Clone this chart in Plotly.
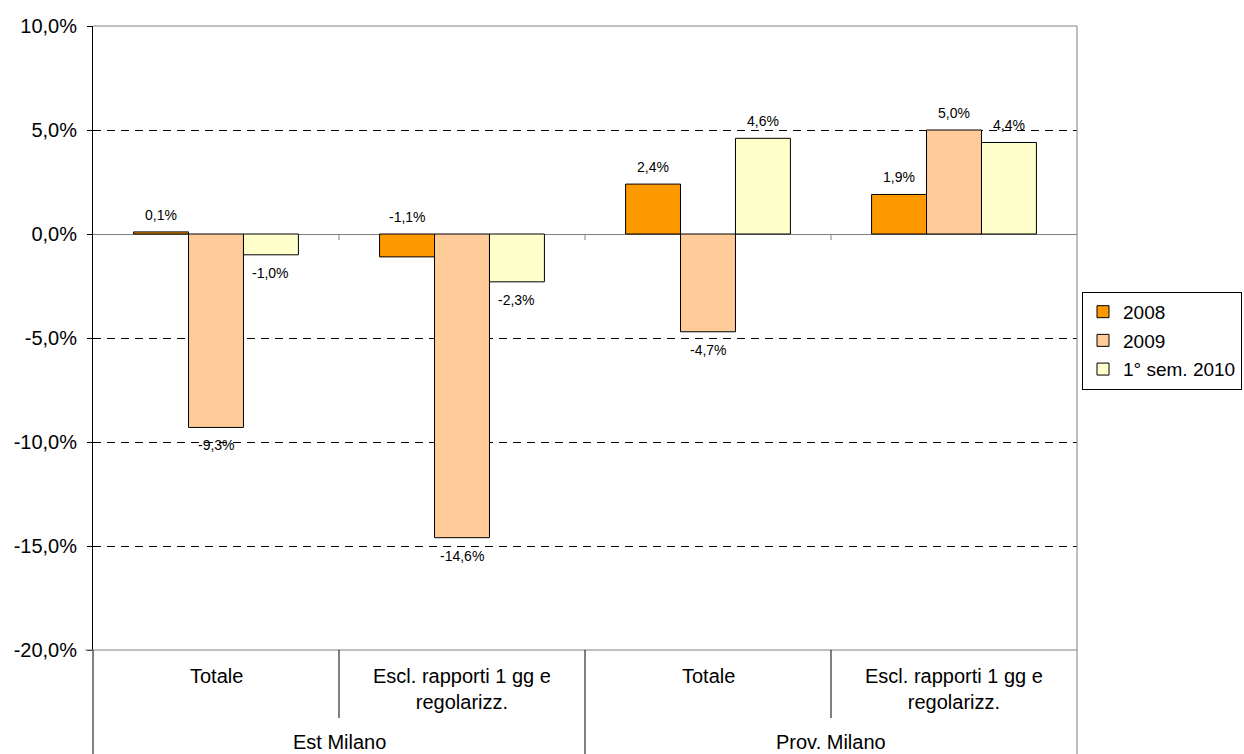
import plotly.graph_objects as go

groups = ["Est Milano", "Prov. Milano"]
categories = ["Totale", "Escl. rapporti 1 gg e<br>regolarizz.", "Totale", "Escl. rapporti 1 gg e<br>regolarizz."]
series_names = ["2008", "2009", "1° sem. 2010"]
v2008 = [0.1, -1.1, 2.4, 1.9]
v2009 = [-9.3, -14.6, -4.7, 5.0]
v2010 = [-1.0, -2.3, 4.6, 4.4]
colors = ["#FF9900", "#FFCC99", "#FFFFCC"]
y_ticks = [-20, -15, -10, -5, 0, 5, 10]
y_tick_labels = ["-20,0%", "-15,0%", "-10,0%", "-5,0%", "0,0%", "5,0%", "10,0%"]

FONT = "Liberation Sans, Arial, sans-serif"
bargap = 0.33
series = [v2008, v2009, v2010]
xs = list(range(len(categories)))

fig = go.Figure()
for name, vals, col in zip(series_names, series, colors):
    fig.add_trace(go.Bar(
        x=xs, y=vals, name=name, legendgroup=name,
        marker=dict(color=col, line=dict(color="black", width=1)),
    ))

bw = (1 - bargap) / len(series)
annotations = []
for si, vals in enumerate(series):
    off = (si - (len(series) - 1) / 2) * bw
    for i, v in enumerate(vals):
        txt = f"{v:.1f}".replace(".", ",") + "%"
        if si == 0:
            yv, anchor, shift = max(v, 0), "bottom", 7
        elif v >= 0:
            yv, anchor, shift = v, "bottom", 7
        else:
            yv, anchor, shift = v, "top", -8
        annotations.append(dict(x=i + off, y=yv, xref="x", yref="y", text=txt,
                                showarrow=False, yanchor=anchor, yshift=shift,
                                font=dict(size=14, color="black", family=FONT)))

# category labels
for i, c in enumerate(categories):
    annotations.append(dict(x=i, y=-0.021, xref="x", yref="paper", text=c,
                            showarrow=False, yanchor="top", align="center",
                            font=dict(size=20, color="black", family=FONT)))
for g, name in enumerate(groups):
    annotations.append(dict(x=2 * g + 0.5, y=-0.1475, xref="x", yref="paper", text=name,
                            showarrow=False, yanchor="middle",
                            font=dict(size=20, color="black", family=FONT)))

shapes = []
# top, right and bottom border
shapes.append(dict(type="line", xref="paper", yref="paper", x0=0, x1=1, y0=1, y1=1,
                   line=dict(color="#808080", width=1), layer="above"))
shapes.append(dict(type="line", xref="paper", yref="paper", x0=1, x1=1, y0=1, y1=-0.2,
                   line=dict(color="#808080", width=1), layer="above"))
shapes.append(dict(type="line", xref="paper", yref="paper", x0=-0.008, x1=1, y0=0, y1=0,
                   line=dict(color="#808080", width=1), layer="above"))
# left border extension
shapes.append(dict(type="line", xref="paper", yref="paper", x0=0, x1=0, y0=0, y1=-0.2,
                   line=dict(color="black", width=1), layer="above"))
# category separators
for b in [0.5, 2.5]:
    shapes.append(dict(type="line", xref="x", yref="paper", x0=b, x1=b, y0=0, y1=-0.109,
                       line=dict(color="black", width=1)))
shapes.append(dict(type="line", xref="x", yref="paper", x0=1.5, x1=1.5, y0=0, y1=-0.2,
                   line=dict(color="black", width=1)))
# ticks on zero line
for b in [0.5, 1.5, 2.5]:
    shapes.append(dict(type="line", xref="x", yref="y", x0=b, x1=b, y0=0, y1=-6,
                       ysizemode="pixel", yanchor=0, line=dict(color="#808080", width=1)))

fig.update_layout(
    width=1244, height=754,
    margin=dict(l=93, r=167, t=26, b=104, autoexpand=False),
    paper_bgcolor="white", plot_bgcolor="white",
    barmode="group", bargap=bargap, bargroupgap=0,
    font=dict(family=FONT, color="black"),
    xaxis=dict(range=[-0.5, 3.5], showticklabels=False, showgrid=False,
               zeroline=False, showline=False, ticks=""),
    yaxis=dict(range=[-20, 10], tickvals=y_ticks, ticktext=y_tick_labels,
               showgrid=True, gridcolor="black", gridwidth=1, griddash="8px,6px",
               zeroline=True, zerolinecolor="#808080", zerolinewidth=1,
               showline=True, linecolor="black", linewidth=1,
               ticks="outside", ticklen=5, tickcolor="black", ticklabelstandoff=6,
               tickfont=dict(size=20, color="black", family=FONT)),
    legend=dict(x=(1082 - 93) / 984, y=0.574, xanchor="left", yanchor="top",
                bordercolor="black", borderwidth=1, bgcolor="white",
                font=dict(size=19, color="black", family=FONT),
                tracegroupgap=1, itemwidth=30),
    annotations=annotations, shapes=shapes,
    showlegend=True,
)

fig.write_html("out.html")
